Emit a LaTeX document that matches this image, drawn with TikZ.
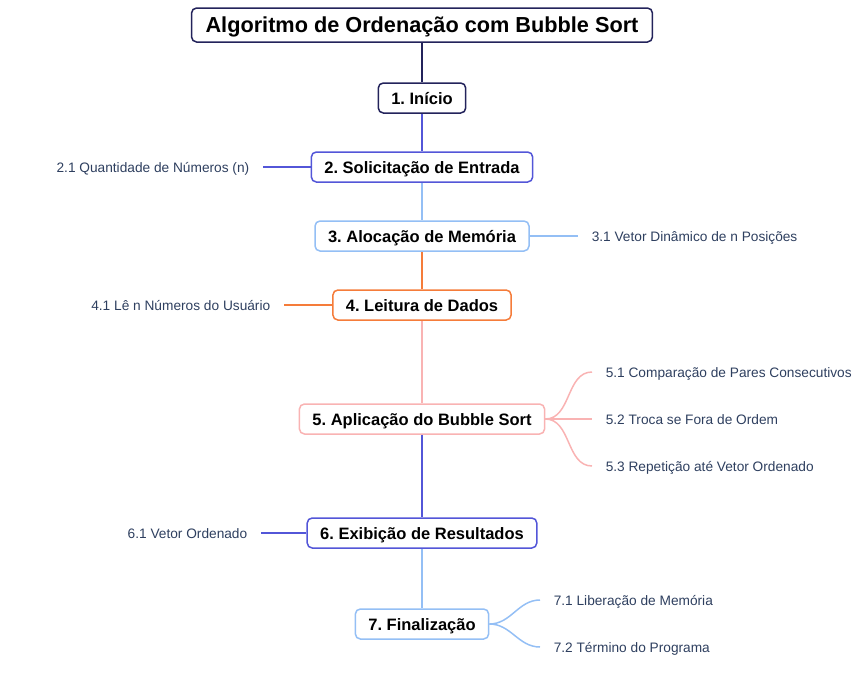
\documentclass[tikz,border=0pt]{standalone}
\usepackage{fontspec}
\setmainfont{Liberation Sans}
\usepackage{tikz}
\definecolor{navy}{HTML}{23235B}
\definecolor{royal}{HTML}{5356D8}
\definecolor{sky}{HTML}{94BFF5}
\definecolor{tang}{HTML}{F57C3A}
\definecolor{blush}{HTML}{F9B3B3}
\definecolor{slate}{HTML}{2E3F5F}
\frenchspacing

\begin{document}
\begin{tikzpicture}
[
x=1pt, y=-1pt,
every path/.style={line width=1.5pt},
stage/.style={draw, rounded corners=5pt, fill=white, inner xsep=13pt, minimum height=30pt, text height=13pt, text depth=1pt, font=\fontsize{16.5}{19}\selectfont\bfseries},
headbox/.style={stage, draw=navy, minimum height=34pt, inner xsep=14pt, text height=17.5pt, text depth=2pt, font=\fontsize{21.7}{25}\selectfont\bfseries},
leaf/.style={inner xsep=13pt, text=slate, text height=11pt, text depth=1pt, font=\fontsize{13.7}{16}\selectfont}
]
\useasboundingbox (0,0) rectangle (856,672);

\node[headbox] (head) at (422,25) {Algoritmo de Ordenação com Bubble Sort};
\node[stage, draw=navy] (s1) at (422,98) {1. Início};
\node[stage, draw=royal] (s2) at (422,167) {2. Solicitação de Entrada};
\node[stage, draw=sky] (s3) at (422,236) {3. Alocação de Memória};
\node[stage, draw=tang] (s4) at (422,305) {4. Leitura de Dados};
\node[stage, draw=blush] (s5) at (422,419) {5. Aplicação do Bubble Sort};
\node[stage, draw=royal] (s6) at (422,533) {6. Exibição de Resultados};
\node[stage, draw=sky] (s7) at (422,624) {7. Finalização};

% spine
\draw[navy] (head) -- (s1);
\draw[royal] (s1) -- (s2);
\draw[sky] (s2) -- (s3);
\draw[tang] (s3) -- (s4);
\draw[blush] (s4) -- (s5);
\draw[royal] (s5) -- (s6);
\draw[sky] (s6) -- (s7);

% leaves
\node[leaf, anchor=east] (l21) at (263,167) {2.1 Quantidade de Números (n)};
\node[leaf, anchor=west] (l31) at (578,236) {3.1 Vetor Dinâmico de n Posições};
\node[leaf, anchor=east] (l41) at (284,305) {4.1 Lê n Números do Usuário};
\node[leaf, anchor=west] (l51) at (592,372) {5.1 Comparação de Pares Consecutivos};
\node[leaf, anchor=west] (l52) at (592,419) {5.2 Troca se Fora de Ordem};
\node[leaf, anchor=west] (l53) at (592,466) {5.3 Repetição até Vetor Ordenado};
\node[leaf, anchor=east] (l61) at (261,533) {6.1 Vetor Ordenado};
\node[leaf, anchor=west] (l71) at (540,600) {7.1 Liberação de Memória};
\node[leaf, anchor=west] (l72) at (540,647) {7.2 Término do Programa};

\draw[royal] (s2) -- (l21);
\draw[sky] (s3) -- (l31);
\draw[tang] (s4) -- (l41);
\foreach \k in {1,2,3}
  \draw[blush] (s5.east) to[out=0, in=180] (l5\k.west);
\draw[royal] (s6) -- (l61);
\foreach \k in {1,2}
  \draw[sky] (s7.east) to[out=0, in=180] (l7\k.west);
\end{tikzpicture}
\end{document}
